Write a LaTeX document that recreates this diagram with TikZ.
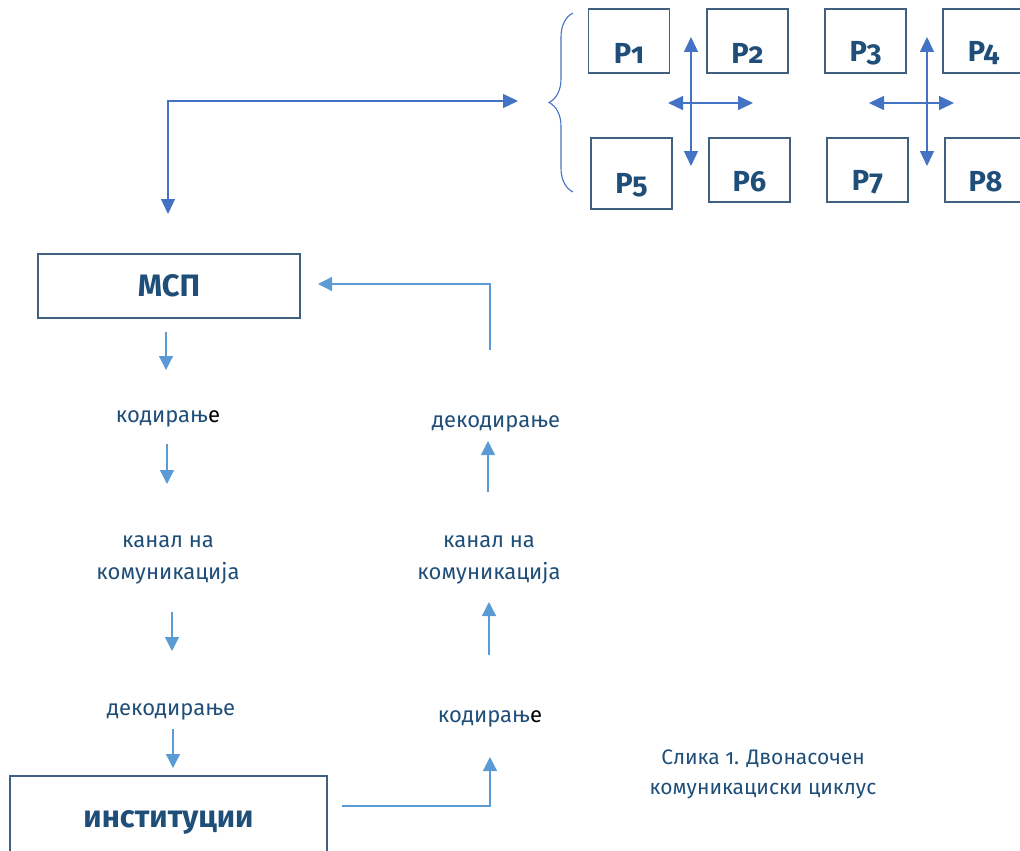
\documentclass[tikz,border=0pt]{standalone}
\usepackage{fontspec}
\setmainfont{Fira Sans}[Numbers=OldStyle]
\usetikzlibrary{arrows.meta,decorations.pathreplacing}

\definecolor{txtblue}{RGB}{31,78,121}
\definecolor{boxline}{RGB}{65,96,127}
\definecolor{arrdark}{RGB}{68,114,196}
\definecolor{arrlight}{RGB}{91,155,213}

\tikzset{
  pbox/.style={draw=boxline, line width=1.2pt, minimum width=81pt, minimum height=64pt, inner sep=0pt},
  ptext/.style={font=\fontsize{29}{32}\selectfont\bfseries, text=txtblue},
  mainbox/.style={draw=boxline, line width=1.2pt, inner sep=0pt, font=\fontsize{31}{36}\selectfont\bfseries, text=txtblue},
  steplabel/.style={font=\fontsize{22}{32}\selectfont, text=txtblue, align=center},
  flow/.style={draw=arrlight, line width=1.3pt, -{Triangle[length=14pt,width=14pt]}},
  link/.style={draw=arrdark, line width=1.3pt, {Triangle[length=15pt,width=14pt]}-{Triangle[length=15pt,width=14pt]}},
}

\begin{document}
\begin{tikzpicture}[x=1pt, y=-1pt]

   \useasboundingbox (0,0) rectangle (1020,851);
   \clip (0,0) rectangle (1020,851);

   % participants
   \node[pbox] (p1) at (629,41) {};
   \node[pbox] (p2) at (747.5,41) {};
   \node[pbox] (p3) at (865.5,41) {};
   \node[pbox] (p4) at (983.5,41) {};
   \node[pbox, minimum height=71pt] (p5) at (631.5,173.5) {};
   \node[pbox] (p6) at (749.5,170) {};
   \node[pbox] (p7) at (867.5,170) {};
   \node[pbox] (p8) at (985.5,170) {};

   \foreach \n in {1,...,8}
   {
     \node[ptext] (t\n) at ([yshift=-12pt]p\n.center) {P\n};
   }

   \coordinate (a1) at (691,37);  \coordinate (a2) at (691,166);
   \coordinate (a3) at (668,103); \coordinate (a4) at (753,103);
   \coordinate (b1) at (927,37);  \coordinate (b2) at (927,166);
   \coordinate (b3) at (869,103); \coordinate (b4) at (954,103);
   \draw[link] (a1) -- (a2);
   \draw[link] (a3) -- (a4);
   \draw[link] (b1) -- (b2);
   \draw[link] (b3) -- (b4);

   \coordinate (br1) at (573,192);
   \coordinate (br2) at (573,13);
   \draw[arrdark, line width=1.1pt, decoration={brace, amplitude=24pt}, decorate] (br1) -- (br2);

   \coordinate (lk1) at (168,214);
   \coordinate (lk2) at (518,101);
   \draw[link] (lk1) |- (lk2);

   % left column
   \node[mainbox, minimum width=262pt, minimum height=64pt] (msp) at (169,286) {МСП};
   \node[mainbox, minimum width=317pt, minimum height=92pt] (inst) at (168.5,822) {институции};

   \node[steplabel] (kod1) at (168,419) {кодирањ\textcolor{black}{е}};
   \node[steplabel] (kan1) at (168,560) {канал на\\комуникација};
   \node[steplabel] (dek1) at (171,712) {декодирање};

   \coordinate (f1) at (166,332); \coordinate (f2) at (166,370);
   \coordinate (f3) at (167,444); \coordinate (f4) at (167,484);
   \coordinate (f5) at (172,612); \coordinate (f6) at (172,651);
   \coordinate (f7) at (173,729); \coordinate (f8) at (173,768);
   \draw[flow] (f1) -- (f2);
   \draw[flow] (f3) -- (f4);
   \draw[flow] (f5) -- (f6);
   \draw[flow] (f7) -- (f8);

   % right column
   \node[steplabel] (kod2) at (490,719) {кодирањ\textcolor{black}{е}};
   \node[steplabel] (kan2) at (489,560) {канал на\\комуникација};
   \node[steplabel] (dek2) at (496,424) {декодирање};

   \coordinate (g1) at (342,806); \coordinate (g2) at (490,757);
   \coordinate (g3) at (489,655); \coordinate (g4) at (489,602);
   \coordinate (g5) at (488,492); \coordinate (g6) at (488,441);
   \coordinate (g7) at (490,350); \coordinate (g8) at (318,284);
   \draw[flow] (g1) -| (g2);
   \draw[flow] (g3) -- (g4);
   \draw[flow] (g5) -- (g6);
   \draw[flow] (g7) |- (g8);

   \node[steplabel, font=\fontsize{21}{30}\selectfont] (cap) at (763,774) {Слика 1. Двонасочен\\комуникациски циклус};

\end{tikzpicture}
\end{document}
